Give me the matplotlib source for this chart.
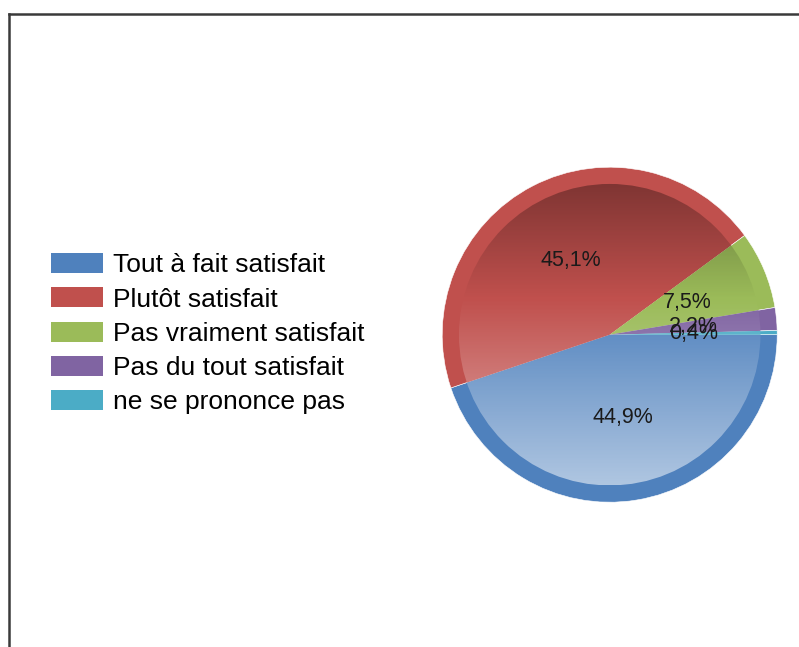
import numpy as np
import matplotlib
matplotlib.use("Agg")
import matplotlib.pyplot as plt
from matplotlib.patches import Circle, Patch
from matplotlib.lines import Line2D

plt.rcParams["font.family"] = ["Liberation Sans", "DejaVu Sans"]

categories = [
    "Tout à fait satisfait",
    "Plutôt satisfait",
    "Pas vraiment satisfait",
    "Pas du tout satisfait",
    "ne se prononce pas",
]
percents = [44.9, 45.1, 7.5, 2.2, 0.4]
colors = ["#4F81BD", "#C0504D", "#9BBB59", "#8064A2", "#4BACC6"]

W, H = 799, 647
fig = plt.figure(figsize=(W / 100, H / 100), dpi=100)

# cadre (bord gauche + haut)
lx = 8.5 / W
ty = (H - 14) / H
fig.add_artist(Line2D([lx, lx], [0, ty], color="#3a3a3a", lw=1.8))
fig.add_artist(Line2D([lx, 1], [ty, ty], color="#3a3a3a", lw=1.8))

# camembert
cx, cy, r = 609.7, 334.7, 167.5
ax = fig.add_axes([(cx - r) / W, (H - cy - r) / H, 2 * r / W, 2 * r / H])

def fmt(p):
    return f"{p:.1f}%".replace(".", ",")

wedges, _, autotexts = ax.pie(
    percents, colors=colors, startangle=0, counterclock=False, radius=1.0,
    autopct=fmt, pctdistance=0.5,
    wedgeprops=dict(edgecolor="white", linewidth=0.4),
    textprops=dict(fontsize=15.5, color="#1a1a1a"),
)
ax.pie(
    percents, colors=colors, startangle=0, counterclock=False, radius=0.9,
    wedgeprops=dict(edgecolor="none", linewidth=0),
)

# degrade vertical (sombre en haut, clair en bas)
t = np.linspace(0, 1, 256)
v = -0.34 + 0.89 * t
grad = np.zeros((256, 1, 4))
grad[:, 0, :3] = np.where(v[:, None] > 0, 1.0, 0.0)
grad[:, 0, 3] = np.abs(v)
im = ax.imshow(grad, extent=(-0.9, 0.9, -0.9, 0.9), aspect="auto",
               interpolation="bilinear", zorder=3)
im.set_clip_path(Circle((0, 0), 0.9, transform=ax.transData))
for txt in autotexts:
    txt.set_zorder(5)

ax.set_xlim(-1, 1)
ax.set_ylim(-1, 1)
ax.set_aspect("equal")
ax.axis("off")

handles = [Patch(facecolor=c, edgecolor="none") for c in colors]
fig.legend(
    handles, categories, loc="upper left",
    bbox_to_anchor=(51 / W, (H - 253) / H), frameon=False,
    fontsize=19, handlelength=1.97, handleheight=0.8, handletextpad=0.38,
    labelspacing=0.38, borderpad=0, borderaxespad=0,
)

fig.savefig("out.png", dpi=100, facecolor="white")
